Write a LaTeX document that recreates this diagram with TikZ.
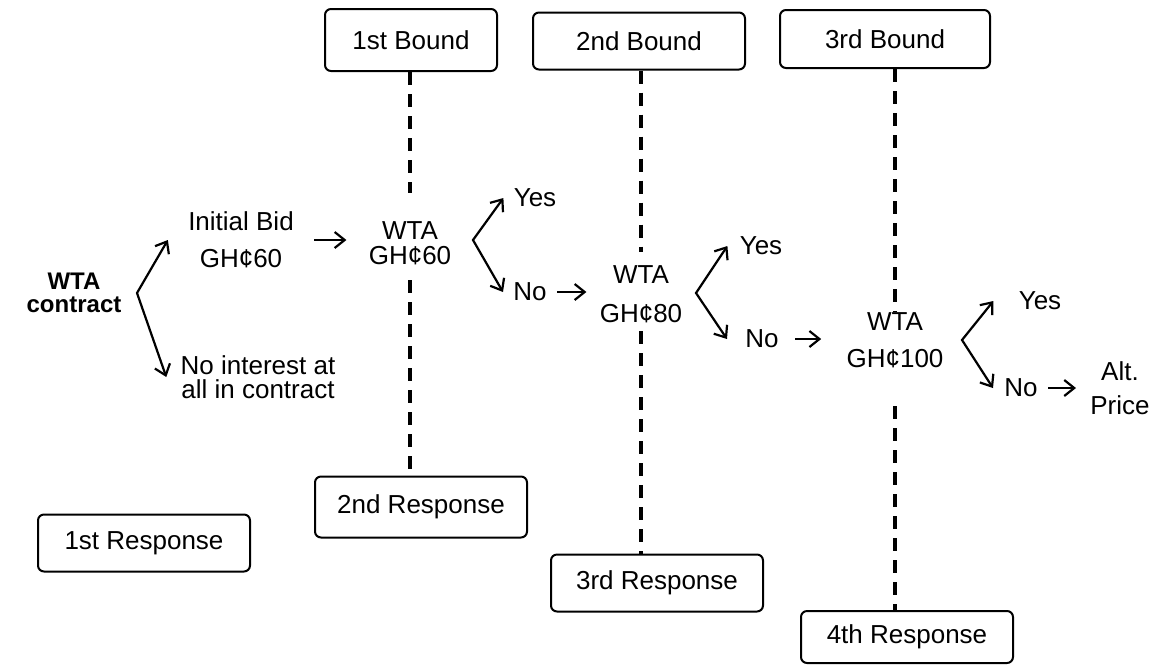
\documentclass[tikz,border=0pt]{standalone}
\usepackage{fontspec}
\setmainfont{Liberation Sans}
\usetikzlibrary{arrows.meta}

\newcommand{\figfont}{\fontsize{13}{15}\selectfont}

\tikzset{
  stagebox/.style={draw, line width=1pt, rounded corners=3pt, inner sep=0pt},
  bound/.style={line width=1.7pt, dash pattern=on 6.5pt off 4.5pt},
  fork/.style={line width=1.1pt, {Straight Barb[length=5pt,width=8pt]}-{Straight Barb[length=5pt,width=8pt]}},
  goarrow/.style={line width=1.1pt, -{Straight Barb[length=5pt,width=8pt]}},
  txt/.style={inner sep=0pt, align=center}
}

\begin{document}
\begin{tikzpicture}[x=0.5pt, y=-0.5pt, font=\figfont]
  \useasboundingbox (0,0) rectangle (1155,666);

  % Bound boxes along the top
  \foreach \nm/\x/\y/\w/\h/\txt in {B1/411/40/86/31/1st Bound,
    B2/639/41/106/28.5/2nd Bound, B3/885/39/105/29/3rd Bound}
    \node[stagebox, minimum width=\w pt, minimum height=\h pt] (\nm) at (\x,\y) {\txt};

  % Response boxes along the bottom
  \foreach \nm/\x/\y/\h/\txt in {R1/144/543/28.5/1st Response,
    R2/421/507/30.5/2nd Response, R3/657/583/28.5/3rd Response,
    R4/907/637/26/4th Response}
    \node[stagebox, minimum width=106pt, minimum height=\h pt] (\nm) at (\x,\y) {\txt};

  % Offers and answers
  \node[txt, font=\fontsize{12}{15}\selectfont\bfseries] (WC) at (74,293) {WTA\\[-3.5pt]contract};
  \node[txt] (IB) at (241,240) {Initial Bid\\[3.5pt]GH¢60};
  \node[txt] (NI) at (258,377) {No interest at\\[-3pt]all in contract};
  \node[txt] (W1) at (410,243) {WTA\\[-2.5pt]GH¢60};
  \node[txt] (Y1) at (535,198) {Yes};
  \node[txt] (N1) at (530,292) {No};
  \node[txt] (W2) at (641,294) {WTA\\[4.5pt]GH¢80};
  \node[txt] (Y2) at (761,246) {Yes};
  \node[txt] (N2) at (762,339) {No};
  \node[txt] (W3) at (895,340) {WTA\\[3.5pt]GH¢100};
  \node[txt] (Y3) at (1040,301) {Yes};
  \node[txt] (N3) at (1021,388) {No};
  \node[txt] (AP) at (1120,388) {Alt.\\[2pt]Price};

  % Fork points
  \coordinate (v0) at (137,293);
  \coordinate (v1) at (473,240);
  \coordinate (v2) at (696,293);
  \coordinate (v3) at (962,340);

  % Forks
  \draw[fork] ([xshift=-10pt]IB.west) -- (v0) -- ([xshift=-7pt]NI.west);
  \draw[fork] ([xshift=-5pt]Y1.west) -- (v1) -- ([xshift=-5pt]N1.west);
  \draw[fork] ([xshift=-6pt]Y2.west) -- (v2) -- ([xshift=-9pt]N2.west);
  \draw[fork] ([xshift=-12.5pt]Y3.west) -- (v3) -- ([xshift=-5.5pt]N3.west);

  % Straight arrows
  \draw[goarrow, shorten <=10pt, shorten >=11pt] (IB.east) -- (IB.east -| W1.west);
  \draw[goarrow, shorten <=5pt, shorten >=6.5pt] (N1.east) -- (N1.east -| W2.west);
  \draw[goarrow, shorten <=8pt, shorten >=12.5pt] (N2.east) -- (N2.east -| W3.west);
  \draw[goarrow, shorten <=5pt, shorten >=7pt] (N3.east) -- (N3.east -| AP.west);

  % Dashed bound lines
  \draw[bound, shorten >=14pt] (B1.south -| W1.north) -- (W1.north);
  \draw[bound, shorten <=7.5pt] (W1.south) -- (W1.south |- R2.north);
  \draw[bound, shorten >=6.5pt] (B2.south -| W2.north) -- (W2.north);
  \draw[bound, shorten <=4pt] (W2.south) -- (W2.south |- R3.north);
  \draw[bound] (B3.south -| W3.north) -- (W3.north);
  \draw[bound, shorten <=19pt] (W3.south) -- (W3.south |- R4.north);
\end{tikzpicture}
\end{document}
